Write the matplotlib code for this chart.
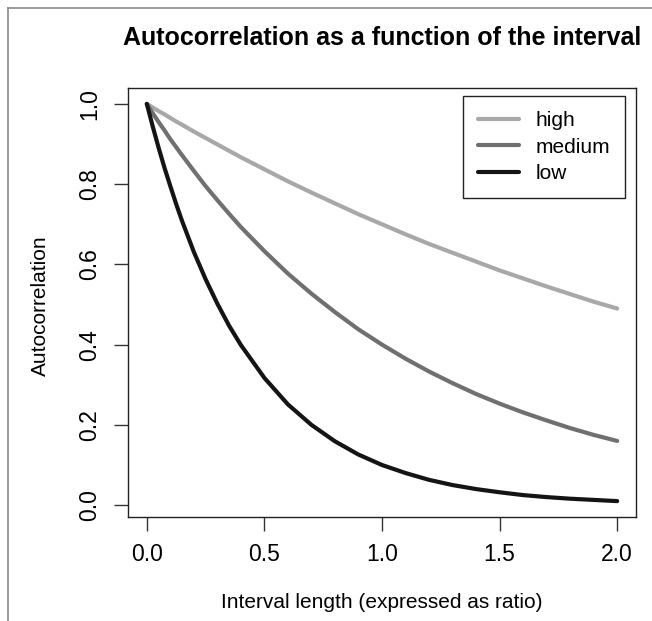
import matplotlib
matplotlib.use("Agg")
import matplotlib.pyplot as plt
from matplotlib.lines import Line2D

# values
interval = [0.0, 0.025, 0.05, 0.075, 0.1, 0.125, 0.15, 0.2, 0.25, 0.3, 0.35, 0.4, 0.5,
            0.6, 0.7, 0.8, 0.9, 1.0, 1.1, 1.2, 1.3, 1.4, 1.5, 1.6, 1.7, 1.8, 1.9, 2.0]
high = [1.000, 0.991, 0.982, 0.974, 0.965, 0.956, 0.948, 0.931, 0.915, 0.899, 0.883,
        0.867, 0.837, 0.807, 0.779, 0.752, 0.725, 0.700, 0.675, 0.651, 0.629, 0.607,
        0.585, 0.565, 0.545, 0.526, 0.507, 0.490]
medium = [1.000, 0.977, 0.955, 0.934, 0.912, 0.892, 0.872, 0.833, 0.795, 0.760, 0.726,
          0.693, 0.633, 0.577, 0.527, 0.481, 0.438, 0.400, 0.365, 0.333, 0.304, 0.277,
          0.253, 0.231, 0.211, 0.192, 0.175, 0.160]
low = [1.000, 0.944, 0.891, 0.841, 0.795, 0.750, 0.708, 0.631, 0.563, 0.502, 0.447,
       0.399, 0.317, 0.251, 0.200, 0.159, 0.126, 0.100, 0.080, 0.063, 0.050, 0.040,
       0.032, 0.025, 0.020, 0.016, 0.013, 0.010]
series = {"high": high, "medium": medium, "low": low}
colors = {"high": "#a8a8a8", "medium": "#707070", "low": "#141414"}
xticks = [0.0, 0.5, 1.0, 1.5, 2.0]
yticks = [0.0, 0.2, 0.4, 0.6, 0.8, 1.0]

W, H = 652, 621
plt.rcParams["font.family"] = ["Liberation Sans", "DejaVu Sans"]
fig = plt.figure(figsize=(W / 100, H / 100), dpi=100)
ax = fig.add_axes([128 / W, 1 - 517 / H, (636 - 128) / W, (517 - 88) / H])

for name, vals in series.items():
    ax.plot(interval, vals, color=colors[name], lw=3, solid_capstyle="round",
            solid_joinstyle="round", label=name)

# R style 4% padding
ax.set_xlim(-0.08, 2.08)
ymin = min(low)
rng = 1.0 - ymin
ax.set_ylim(ymin - 0.04 * rng, 1.0 + 0.04 * rng)

ax.set_xticks(xticks)
ax.set_xticklabels([f"{t:.1f}" for t in xticks])
ax.set_yticks(yticks)
ax.set_yticklabels([f"{t:.1f}" for t in yticks], rotation=90, va="center")
ax.tick_params(length=10, width=1, labelsize=16.5, color="#333333")
ax.tick_params(axis="x", pad=9)
ax.tick_params(axis="y", pad=9)
for s in ax.spines.values():
    s.set_linewidth(1)
    s.set_color("#222222")

leg = ax.legend(loc="upper right", bbox_to_anchor=(625 / W, 1 - 96 / H),
                bbox_transform=fig.transFigure, fontsize=15, frameon=True,
                fancybox=False, edgecolor="#222222", framealpha=1,
                handlelength=1.95, handletextpad=0.8, labelspacing=0.37,
                borderpad=0.72, borderaxespad=0)
leg.get_frame().set_linewidth(1)

fig.text(382 / W, 1 - 38 / H, "Autocorrelation as a function of the interval",
         ha="center", va="center", fontsize=18, fontweight="bold")
fig.text(382 / W, 1 - 603 / H, "Interval length (expressed as ratio)",
         ha="center", va="center", fontsize=15)
fig.text(40 / W, 1 - 306 / H, "Autocorrelation", ha="center", va="center",
         rotation=90, fontsize=15)

# outer gray border (top and left edges)
fig.add_artist(Line2D([8 / W, 8 / W], [0, 1 - 8 / H], transform=fig.transFigure,
                      color="#8a8a8a", lw=1.2))
fig.add_artist(Line2D([8 / W, 1], [1 - 8 / H, 1 - 8 / H], transform=fig.transFigure,
                      color="#8a8a8a", lw=1.2))

fig.savefig("out.png", dpi=100)
